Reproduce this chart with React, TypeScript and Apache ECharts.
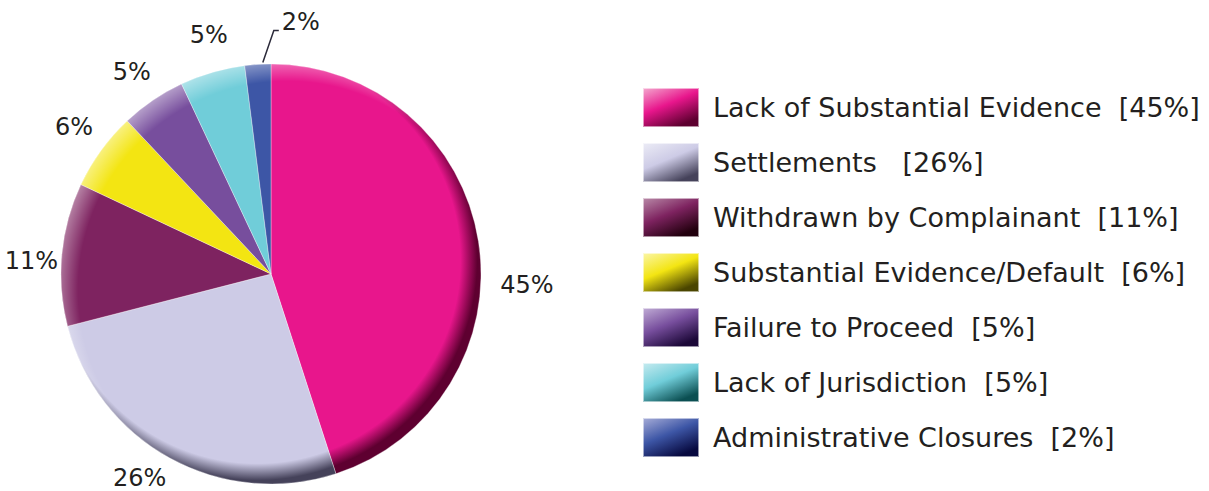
import React, { useEffect, useRef } from "react";
import * as echarts from "echarts";

const categories = [
  "Lack of Substantial Evidence",
  "Settlements",
  "Withdrawn by Complainant",
  "Substantial Evidence/Default",
  "Failure to Proceed",
  "Lack of Jurisdiction",
  "Administrative Closures",
];
const values = [45, 26, 11, 6, 5, 5, 2];
const baseColors = ["#E8168C", "#CDCBE6", "#7E2360", "#F3E512", "#774E9D", "#70CDD9", "#3D56A6"];
const darkColors = ["#5E0030", "#45425A", "#22000E", "#4A4500", "#1C0838", "#0B4F52", "#07093F"];
const lightColors = ["#F4A9CF", "#ECECF6", "#B98AA8", "#FBF6A8", "#C1ADD6", "#C6EBF0", "#A7ADD8"];
const legendGaps = ["  ", "   ", "  ", "  ", "  ", "  ", "  "];
// small label nudges from ECharts' default outside placement
const labelNudgeX = [-5, 12, 18, 10, 27, 65, 0];
const labelNudgeY = [47, 1, 9, -11, -22, -33, 0];

const CX = 271;
const CY = 274;
const R = 210;
const FONT = "DejaVu Sans";

export default function App() {
  const ref = useRef<HTMLDivElement>(null);
  useEffect(() => {
    if (!ref.current) return;
    const chart = echarts.init(ref.current, undefined, { renderer: "svg" });
    const data = categories.map((name, i) => ({
      name,
      value: values[i],
      itemStyle: {
        color: {
          type: "radial",
          x: CX - 14,
          y: CY - 14,
          r: R + 16,
          global: true,
          colorStops: [
            { offset: 0, color: baseColors[i] },
            { offset: 0.9, color: baseColors[i] },
            { offset: 0.975, color: darkColors[i] },
            { offset: 1, color: darkColors[i] },
          ],
        },
      },
      labelLine: { show: i === 6 },
    }));
    const overlay = categories.map((name, i) => ({ name, value: values[i] }));
    chart.setOption({
      animation: false,
      textStyle: { fontFamily: FONT },
      legend: {
        orient: "vertical",
        left: 637,
        top: 82,
        itemWidth: 56,
        itemHeight: 39,
        itemGap: 14,
        icon: "rect",
        selectedMode: false,
        textStyle: { fontFamily: FONT, fontSize: 27, color: "#231F20", padding: [0, 0, 0, 9] },
        formatter: (name: string) => {
          const i = categories.indexOf(name);
          return `${name}${legendGaps[i]}[${values[i]}%]`;
        },
        data: categories.map((name, i) => ({
          name,
          itemStyle: {
            color: {
              type: "linear",
              x: 0,
              y: 0,
              x2: 0.6,
              y2: 1,
              colorStops: [
                { offset: 0, color: lightColors[i] },
                { offset: 0.5, color: baseColors[i] },
                { offset: 1, color: darkColors[i] },
              ],
            },
          },
        })),
      },
      series: [
        {
          type: "pie",
          center: [CX, CY],
          radius: R,
          startAngle: 90,
          clockwise: true,
          silent: true,
          data,
          itemStyle: { borderColor: "rgba(255,255,255,0.55)", borderWidth: 0.6 },
          label: {
            show: true,
            position: "outside",
            formatter: "{c}%",
            fontFamily: FONT,
            fontSize: 24,
            color: "#231F20",
            overflow: "none",
          },
          labelLine: {
            show: false,
            length: 22,
            length2: 0,
            lineStyle: { color: "#2B2A3A", width: 1.5 },
          },
          labelLayout: (p: any) => {
            if (p.dataIndex === 6 && p.labelLinePoints) {
              const p0 = p.labelLinePoints[0];
              const s: number[] = [p0[0] + 5, p0[1] - 2];
              return {
                x: s[0] + 19,
                y: s[1] - 40,
                align: "left",
                verticalAlign: "middle",
                labelLinePoints: [s, [s[0] + 11, s[1] - 32], [s[0] + 16, s[1] - 32]],
              };
            }
            return { dx: labelNudgeX[p.dataIndex], dy: labelNudgeY[p.dataIndex] };
          },
        },
        {
          type: "pie",
          center: [CX, CY],
          radius: R,
          startAngle: 90,
          clockwise: true,
          silent: true,
          label: { show: false },
          labelLine: { show: false },
          data: overlay,
          itemStyle: {
            color: {
              type: "radial",
              x: CX + 16,
              y: CY + 16,
              r: R + 22,
              global: true,
              colorStops: [
                { offset: 0, color: "rgba(255,255,255,0)" },
                { offset: 0.9, color: "rgba(255,255,255,0)" },
                { offset: 1, color: "rgba(255,255,255,0.45)" },
              ],
            },
          },
        },
      ],
    });
    return () => chart.dispose();
  }, []);
  return (
    <div
      ref={ref}
      style={{ position: "absolute", left: 0, top: 0, width: 1209, height: 491, background: "#fff" }}
    />
  );
}
